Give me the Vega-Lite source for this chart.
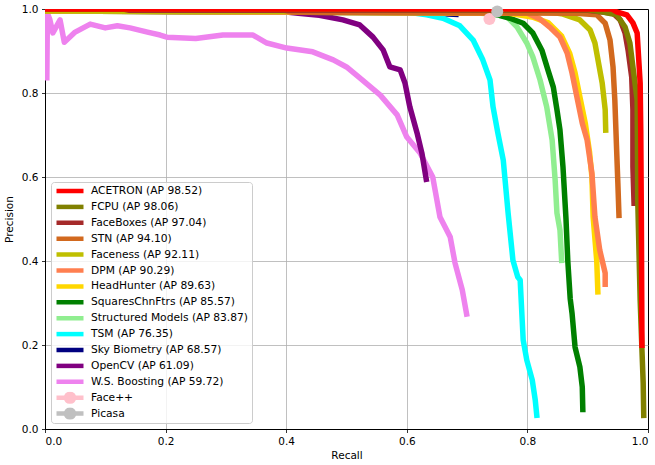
{
  "$schema": "https://vega.github.io/schema/vega-lite/v6.json",
  "width": 603,
  "height": 420,
  "autosize": {"type": "none"},
  "padding": {"left": 45, "top": 9, "right": 7, "bottom": 36},
  "background": "white",
  "config": {
    "font": "DejaVu Sans",
    "view": {"stroke": "#000000", "strokeWidth": 1},
    "axis": {
      "labelFont": "DejaVu Sans", "labelFontSize": 10.5, "labelColor": "#000000",
      "titleFont": "DejaVu Sans", "titleFontSize": 10.5, "titleFontWeight": "normal", "titleColor": "#000000",
      "tickColor": "#000000", "tickSize": 3.5, "tickWidth": 0.8,
      "domain": true, "domainColor": "#000000", "domainWidth": 1,
      "gridColor": "#b0b0b0", "gridWidth": 0.8,
      "gridOpacity": {"condition": {"test": "datum.value == 0 || datum.value == 1", "value": 0}, "value": 1},
      "labelPadding": 3.5
    },
    "legend": {
      "orient": "none", "legendX": 6, "legendY": 173,
      "fillColor": "rgba(255,255,255,0.8)", "strokeColor": "#cccccc", "cornerRadius": 3,
      "padding": 3, "labelFont": "DejaVu Sans", "labelFontSize": 10.7, "labelColor": "#000000",
      "symbolSize": 729, "symbolStrokeWidth": 4.5, "clipHeight": 12, "rowPadding": 3.9,
      "labelOffset": 5, "symbolOpacity": 1
    }
  },
  "datasets": {
    "curves": [
      {"series": "W.S. Boosting", "recall": 0.003, "precision": 0.83},
      {"series": "W.S. Boosting", "recall": 0.004, "precision": 0.99},
      {"series": "W.S. Boosting", "recall": 0.008, "precision": 0.975},
      {"series": "W.S. Boosting", "recall": 0.013, "precision": 0.943},
      {"series": "W.S. Boosting", "recall": 0.025, "precision": 0.974},
      {"series": "W.S. Boosting", "recall": 0.032, "precision": 0.921},
      {"series": "W.S. Boosting", "recall": 0.05, "precision": 0.945},
      {"series": "W.S. Boosting", "recall": 0.075, "precision": 0.964},
      {"series": "W.S. Boosting", "recall": 0.1, "precision": 0.955},
      {"series": "W.S. Boosting", "recall": 0.12, "precision": 0.96},
      {"series": "W.S. Boosting", "recall": 0.141, "precision": 0.955},
      {"series": "W.S. Boosting", "recall": 0.17, "precision": 0.945},
      {"series": "W.S. Boosting", "recall": 0.191, "precision": 0.938},
      {"series": "W.S. Boosting", "recall": 0.202, "precision": 0.933},
      {"series": "W.S. Boosting", "recall": 0.25, "precision": 0.93},
      {"series": "W.S. Boosting", "recall": 0.295, "precision": 0.938},
      {"series": "W.S. Boosting", "recall": 0.345, "precision": 0.938},
      {"series": "W.S. Boosting", "recall": 0.368, "precision": 0.919},
      {"series": "W.S. Boosting", "recall": 0.401, "precision": 0.907},
      {"series": "W.S. Boosting", "recall": 0.444, "precision": 0.898},
      {"series": "W.S. Boosting", "recall": 0.478, "precision": 0.879},
      {"series": "W.S. Boosting", "recall": 0.5, "precision": 0.862},
      {"series": "W.S. Boosting", "recall": 0.522, "precision": 0.836},
      {"series": "W.S. Boosting", "recall": 0.556, "precision": 0.795},
      {"series": "W.S. Boosting", "recall": 0.584, "precision": 0.748},
      {"series": "W.S. Boosting", "recall": 0.6, "precision": 0.695},
      {"series": "W.S. Boosting", "recall": 0.622, "precision": 0.657},
      {"series": "W.S. Boosting", "recall": 0.643, "precision": 0.6},
      {"series": "W.S. Boosting", "recall": 0.655, "precision": 0.505},
      {"series": "W.S. Boosting", "recall": 0.672, "precision": 0.457},
      {"series": "W.S. Boosting", "recall": 0.68, "precision": 0.395},
      {"series": "W.S. Boosting", "recall": 0.692, "precision": 0.331},
      {"series": "W.S. Boosting", "recall": 0.7, "precision": 0.267},

      {"series": "OpenCV", "recall": 0.0, "precision": 0.995},
      {"series": "OpenCV", "recall": 0.4, "precision": 0.993},
      {"series": "OpenCV", "recall": 0.42, "precision": 0.99},
      {"series": "OpenCV", "recall": 0.455, "precision": 0.985},
      {"series": "OpenCV", "recall": 0.494, "precision": 0.974},
      {"series": "OpenCV", "recall": 0.522, "precision": 0.962},
      {"series": "OpenCV", "recall": 0.544, "precision": 0.933},
      {"series": "OpenCV", "recall": 0.561, "precision": 0.902},
      {"series": "OpenCV", "recall": 0.572, "precision": 0.862},
      {"series": "OpenCV", "recall": 0.589, "precision": 0.855},
      {"series": "OpenCV", "recall": 0.597, "precision": 0.824},
      {"series": "OpenCV", "recall": 0.605, "precision": 0.767},
      {"series": "OpenCV", "recall": 0.617, "precision": 0.705},
      {"series": "OpenCV", "recall": 0.625, "precision": 0.657},
      {"series": "OpenCV", "recall": 0.633, "precision": 0.588},

      {"series": "Sky Biometry", "recall": 0.0, "precision": 0.995},
      {"series": "Sky Biometry", "recall": 0.6, "precision": 0.993},
      {"series": "Sky Biometry", "recall": 0.686, "precision": 0.987},

      {"series": "TSM", "recall": 0.0, "precision": 0.995},
      {"series": "TSM", "recall": 0.6, "precision": 0.993},
      {"series": "TSM", "recall": 0.633, "precision": 0.986},
      {"series": "TSM", "recall": 0.66, "precision": 0.978},
      {"series": "TSM", "recall": 0.688, "precision": 0.96},
      {"series": "TSM", "recall": 0.71, "precision": 0.926},
      {"series": "TSM", "recall": 0.726, "precision": 0.879},
      {"series": "TSM", "recall": 0.738, "precision": 0.831},
      {"series": "TSM", "recall": 0.743, "precision": 0.767},
      {"series": "TSM", "recall": 0.751, "precision": 0.705},
      {"series": "TSM", "recall": 0.76, "precision": 0.64},
      {"series": "TSM", "recall": 0.763, "precision": 0.593},
      {"series": "TSM", "recall": 0.768, "precision": 0.514},
      {"series": "TSM", "recall": 0.776, "precision": 0.402},
      {"series": "TSM", "recall": 0.784, "precision": 0.362},
      {"series": "TSM", "recall": 0.788, "precision": 0.355},
      {"series": "TSM", "recall": 0.793, "precision": 0.212},
      {"series": "TSM", "recall": 0.799, "precision": 0.164},
      {"series": "TSM", "recall": 0.808, "precision": 0.117},
      {"series": "TSM", "recall": 0.813, "precision": 0.069},
      {"series": "TSM", "recall": 0.816, "precision": 0.026},

      {"series": "Structured Models", "recall": 0.0, "precision": 0.995},
      {"series": "Structured Models", "recall": 0.7, "precision": 0.992},
      {"series": "Structured Models", "recall": 0.74, "precision": 0.988},
      {"series": "Structured Models", "recall": 0.766, "precision": 0.982},
      {"series": "Structured Models", "recall": 0.783, "precision": 0.957},
      {"series": "Structured Models", "recall": 0.799, "precision": 0.919},
      {"series": "Structured Models", "recall": 0.809, "precision": 0.886},
      {"series": "Structured Models", "recall": 0.821, "precision": 0.831},
      {"series": "Structured Models", "recall": 0.832, "precision": 0.767},
      {"series": "Structured Models", "recall": 0.841, "precision": 0.688},
      {"series": "Structured Models", "recall": 0.846, "precision": 0.593},
      {"series": "Structured Models", "recall": 0.849, "precision": 0.514},
      {"series": "Structured Models", "recall": 0.854, "precision": 0.474},
      {"series": "Structured Models", "recall": 0.857, "precision": 0.395},

      {"series": "SquaresChnFtrs", "recall": 0.0, "precision": 0.995},
      {"series": "SquaresChnFtrs", "recall": 0.74, "precision": 0.99},
      {"series": "SquaresChnFtrs", "recall": 0.771, "precision": 0.978},
      {"series": "SquaresChnFtrs", "recall": 0.793, "precision": 0.966},
      {"series": "SquaresChnFtrs", "recall": 0.809, "precision": 0.943},
      {"series": "SquaresChnFtrs", "recall": 0.824, "precision": 0.902},
      {"series": "SquaresChnFtrs", "recall": 0.834, "precision": 0.855},
      {"series": "SquaresChnFtrs", "recall": 0.843, "precision": 0.814},
      {"series": "SquaresChnFtrs", "recall": 0.849, "precision": 0.76},
      {"series": "SquaresChnFtrs", "recall": 0.854, "precision": 0.712},
      {"series": "SquaresChnFtrs", "recall": 0.859, "precision": 0.624},
      {"series": "SquaresChnFtrs", "recall": 0.864, "precision": 0.5},
      {"series": "SquaresChnFtrs", "recall": 0.867, "precision": 0.4},
      {"series": "SquaresChnFtrs", "recall": 0.871, "precision": 0.31},
      {"series": "SquaresChnFtrs", "recall": 0.874, "precision": 0.276},
      {"series": "SquaresChnFtrs", "recall": 0.879, "precision": 0.195},
      {"series": "SquaresChnFtrs", "recall": 0.887, "precision": 0.148},
      {"series": "SquaresChnFtrs", "recall": 0.891, "precision": 0.1},
      {"series": "SquaresChnFtrs", "recall": 0.892, "precision": 0.04},

      {"series": "HeadHunter", "recall": 0.0, "precision": 0.995},
      {"series": "HeadHunter", "recall": 0.77, "precision": 0.99},
      {"series": "HeadHunter", "recall": 0.81, "precision": 0.98},
      {"series": "HeadHunter", "recall": 0.835, "precision": 0.967},
      {"series": "HeadHunter", "recall": 0.857, "precision": 0.935},
      {"series": "HeadHunter", "recall": 0.87, "precision": 0.895},
      {"series": "HeadHunter", "recall": 0.879, "precision": 0.848},
      {"series": "HeadHunter", "recall": 0.887, "precision": 0.791},
      {"series": "HeadHunter", "recall": 0.896, "precision": 0.728},
      {"series": "HeadHunter", "recall": 0.903, "precision": 0.66},
      {"series": "HeadHunter", "recall": 0.907, "precision": 0.6},
      {"series": "HeadHunter", "recall": 0.909, "precision": 0.505},
      {"series": "HeadHunter", "recall": 0.915, "precision": 0.4},
      {"series": "HeadHunter", "recall": 0.917, "precision": 0.32},

      {"series": "DPM", "recall": 0.0, "precision": 0.995},
      {"series": "DPM", "recall": 0.8, "precision": 0.99},
      {"series": "DPM", "recall": 0.821, "precision": 0.976},
      {"series": "DPM", "recall": 0.837, "precision": 0.957},
      {"series": "DPM", "recall": 0.854, "precision": 0.933},
      {"series": "DPM", "recall": 0.866, "precision": 0.895},
      {"series": "DPM", "recall": 0.874, "precision": 0.848},
      {"series": "DPM", "recall": 0.882, "precision": 0.791},
      {"series": "DPM", "recall": 0.891, "precision": 0.728},
      {"series": "DPM", "recall": 0.899, "precision": 0.688},
      {"series": "DPM", "recall": 0.907, "precision": 0.609},
      {"series": "DPM", "recall": 0.912, "precision": 0.505},
      {"series": "DPM", "recall": 0.92, "precision": 0.426},
      {"series": "DPM", "recall": 0.929, "precision": 0.371},
      {"series": "DPM", "recall": 0.929, "precision": 0.338},

      {"series": "Faceness", "recall": 0.0, "precision": 0.995},
      {"series": "Faceness", "recall": 0.84, "precision": 0.992},
      {"series": "Faceness", "recall": 0.859, "precision": 0.988},
      {"series": "Faceness", "recall": 0.887, "precision": 0.974},
      {"series": "Faceness", "recall": 0.904, "precision": 0.95},
      {"series": "Faceness", "recall": 0.912, "precision": 0.919},
      {"series": "Faceness", "recall": 0.917, "precision": 0.879},
      {"series": "Faceness", "recall": 0.924, "precision": 0.824},
      {"series": "Faceness", "recall": 0.929, "precision": 0.76},
      {"series": "Faceness", "recall": 0.93, "precision": 0.705},

      {"series": "STN", "recall": 0.0, "precision": 1.0},
      {"series": "STN", "recall": 0.39, "precision": 1.0},
      {"series": "STN", "recall": 0.41, "precision": 0.992},
      {"series": "STN", "recall": 0.88, "precision": 0.99},
      {"series": "STN", "recall": 0.915, "precision": 0.986},
      {"series": "STN", "recall": 0.929, "precision": 0.966},
      {"series": "STN", "recall": 0.937, "precision": 0.926},
      {"series": "STN", "recall": 0.942, "precision": 0.862},
      {"series": "STN", "recall": 0.945, "precision": 0.783},
      {"series": "STN", "recall": 0.948, "precision": 0.664},
      {"series": "STN", "recall": 0.95, "precision": 0.586},
      {"series": "STN", "recall": 0.952, "precision": 0.502},

      {"series": "FaceBoxes", "recall": 0.0, "precision": 1.0},
      {"series": "FaceBoxes", "recall": 0.13, "precision": 1.0},
      {"series": "FaceBoxes", "recall": 0.14, "precision": 0.997},
      {"series": "FaceBoxes", "recall": 0.9, "precision": 0.997},
      {"series": "FaceBoxes", "recall": 0.942, "precision": 0.99},
      {"series": "FaceBoxes", "recall": 0.954, "precision": 0.974},
      {"series": "FaceBoxes", "recall": 0.962, "precision": 0.943},
      {"series": "FaceBoxes", "recall": 0.967, "precision": 0.902},
      {"series": "FaceBoxes", "recall": 0.973, "precision": 0.838},
      {"series": "FaceBoxes", "recall": 0.975, "precision": 0.76},
      {"series": "FaceBoxes", "recall": 0.975, "precision": 0.624},
      {"series": "FaceBoxes", "recall": 0.977, "precision": 0.531},

      {"series": "FCPU", "recall": 0.0, "precision": 1.0},
      {"series": "FCPU", "recall": 0.9, "precision": 0.998},
      {"series": "FCPU", "recall": 0.925, "precision": 0.993},
      {"series": "FCPU", "recall": 0.948, "precision": 0.986},
      {"series": "FCPU", "recall": 0.962, "precision": 0.957},
      {"series": "FCPU", "recall": 0.97, "precision": 0.919},
      {"series": "FCPU", "recall": 0.975, "precision": 0.862},
      {"series": "FCPU", "recall": 0.982, "precision": 0.783},
      {"series": "FCPU", "recall": 0.983, "precision": 0.545},
      {"series": "FCPU", "recall": 0.987, "precision": 0.307},
      {"series": "FCPU", "recall": 0.99, "precision": 0.188},
      {"series": "FCPU", "recall": 0.992, "precision": 0.11},
      {"series": "FCPU", "recall": 0.993, "precision": 0.026},

      {"series": "ACETRON", "recall": 0.0, "precision": 1.0},
      {"series": "ACETRON", "recall": 0.94, "precision": 1.0},
      {"series": "ACETRON", "recall": 0.948, "precision": 0.993},
      {"series": "ACETRON", "recall": 0.965, "precision": 0.986},
      {"series": "ACETRON", "recall": 0.975, "precision": 0.967},
      {"series": "ACETRON", "recall": 0.982, "precision": 0.943},
      {"series": "ACETRON", "recall": 0.984, "precision": 0.895},
      {"series": "ACETRON", "recall": 0.987, "precision": 0.824},
      {"series": "ACETRON", "recall": 0.988, "precision": 0.712},
      {"series": "ACETRON", "recall": 0.989, "precision": 0.5},
      {"series": "ACETRON", "recall": 0.99, "precision": 0.193}
    ],
    "points": [
      {"series": "Face++", "recall": 0.737, "precision": 0.976},
      {"series": "Picasa", "recall": 0.75, "precision": 0.994}
    ]
  },
  "layer": [
    {
      "data": {"name": "curves"},
      "mark": {"type": "line", "strokeWidth": 5.5, "clip": true, "strokeCap": "butt", "strokeJoin": "round"},
      "encoding": {
        "x": {"field": "recall", "type": "quantitative", "scale": {"domain": [0, 1], "nice": false, "zero": false},
              "axis": {"values": [0, 0.2, 0.4, 0.6, 0.8, 1], "format": ".1f", "title": "Recall", "titlePadding": 4}},
        "y": {"field": "precision", "type": "quantitative", "scale": {"domain": [0, 1], "nice": false, "zero": false},
              "axis": {"values": [0, 0.2, 0.4, 0.6, 0.8, 1], "format": ".1f", "title": "Precision", "titlePadding": 7}},
        "color": {
          "field": "series", "type": "nominal",
          "scale": {
            "domain": ["ACETRON", "FCPU", "FaceBoxes", "STN", "Faceness", "DPM", "HeadHunter", "SquaresChnFtrs", "Structured Models", "TSM", "Sky Biometry", "OpenCV", "W.S. Boosting", "Face++", "Picasa"],
            "range": ["#ff0000", "#808000", "#a52a2a", "#d2691e", "#bfbf00", "#ff7f50", "#ffd700", "#008000", "#90ee90", "#00ffff", "#000080", "#800080", "#ee82ee", "#ffc0cb", "#c0c0c0"]
          },
          "legend": {
            "title": null,
            "labelExpr": "datum.value == 'ACETRON' ? 'ACETRON (AP 98.52)' : datum.value == 'FCPU' ? 'FCPU (AP 98.06)' : datum.value == 'FaceBoxes' ? 'FaceBoxes (AP 97.04)' : datum.value == 'STN' ? 'STN (AP 94.10)' : datum.value == 'Faceness' ? 'Faceness (AP 92.11)' : datum.value == 'DPM' ? 'DPM (AP 90.29)' : datum.value == 'HeadHunter' ? 'HeadHunter (AP 89.63)' : datum.value == 'SquaresChnFtrs' ? 'SquaresChnFtrs (AP 85.57)' : datum.value == 'Structured Models' ? 'Structured Models (AP 83.87)' : datum.value == 'TSM' ? 'TSM (AP 76.35)' : datum.value == 'Sky Biometry' ? 'Sky Biometry (AP 68.57)' : datum.value == 'OpenCV' ? 'OpenCV (AP 61.09)' : datum.value == 'W.S. Boosting' ? 'W.S. Boosting (AP 59.72)' : datum.value",
            "encode": {
              "symbols": {
                "update": {
                  "shape": {"signal": "indexof(['Face++','Picasa'], datum.value) >= 0 ? 'M-1,0H1M0.3,0A0.3,0.3 0 1,1 -0.3,0A0.3,0.3 0 1,1 0.3,0' : 'M-1,0H1'"},
                  "fill": {"signal": "scale('color', datum.value)"},
                  "stroke": {"signal": "scale('color', datum.value)"},
                  "strokeWidth": {"value": 4.5},
                  "opacity": {"value": 1}
                }
              }
            }
          }
        },
        "order": {"value": null}
      }
    },
    {
      "data": {"name": "points"},
      "mark": {"type": "point", "filled": true, "size": 144, "opacity": 1, "clip": false},
      "encoding": {
        "x": {"field": "recall", "type": "quantitative"},
        "y": {"field": "precision", "type": "quantitative"},
        "color": {"field": "series", "type": "nominal"}
      }
    }
  ]
}
